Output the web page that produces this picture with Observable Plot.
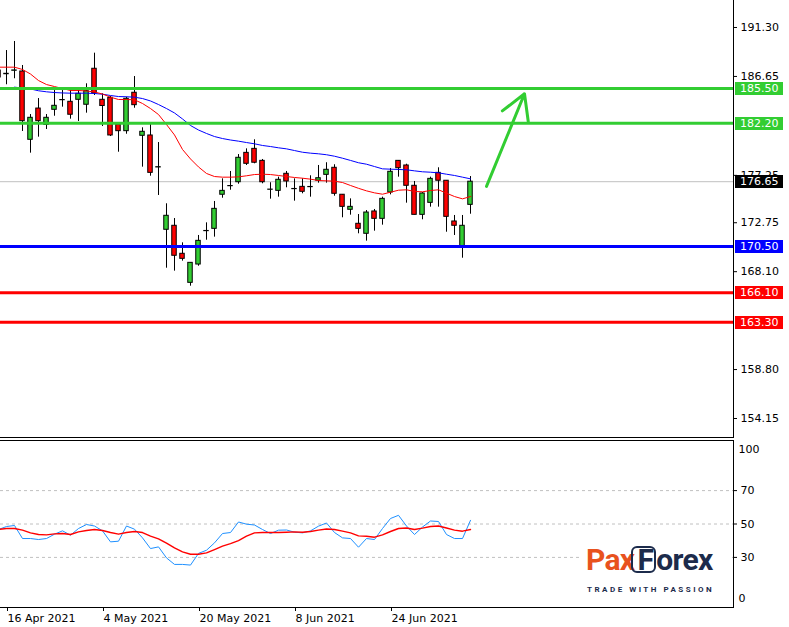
<!DOCTYPE html>
<html><head><meta charset="utf-8">
<script src="https://cdn.jsdelivr.net/npm/d3@7"></script>
<script src="https://cdn.jsdelivr.net/npm/@observablehq/plot@0.6"></script>
<style>
body{margin:0;background:#fff;}
#wrap{position:relative;width:789px;height:627px;overflow:hidden;background:#fff;font-family:"DejaVu Sans",sans-serif;}
#top{position:absolute;left:0;top:0;}
#bot{position:absolute;left:0;top:438px;}
#logo{position:absolute;left:580px;top:541px;width:152px;height:62px;background:#fff;}
#brand{position:absolute;left:6px;top:3px;font-family:Roboto,"Open Sans",sans-serif;font-weight:700;font-size:30px;letter-spacing:-0.7px;line-height:32px;white-space:nowrap;}
#brand .pax{color:#E8521E;}
#brand .fbox{color:#1C2B4B;display:inline-block;border:2px solid #1C2B4B;border-radius:6px;line-height:23px;padding:0 1px 0 4px;margin-left:-3px;}
#brand .orex{color:#1C2B4B;}
#tag{position:absolute;left:7px;top:44px;font-family:Roboto,"Open Sans",sans-serif;font-weight:700;font-size:8px;letter-spacing:2.5px;color:#1C2B4B;white-space:nowrap;}
</style></head>
<body><div id="wrap"><div id="top"></div><div id="bot"></div>
<div id="logo"><div id="brand"><span class="pax">Pax</span><span class="fbox">F</span><span class="orex">orex</span></div><div id="tag">TRADE WITH PASSION</div></div>
</div>
<script>
// ---------- data ----------
const barIndex = [-1,0,1,2,3,4,5,6,7,8,9,10,11,12,13,14,15,16,17,18,19,20,21,22,23,24,25,26,27,28,29,30,31,32,33,34,35,36,37,38,39,40,41,42,43,44,45,46,47,48,49,50,51,52,53,54,55,56,57,58];
const openP = [187.21,186.86,187.19,187.12,180.63,183.60,182.05,183.48,184.39,184.24,184.43,183.96,187.38,184.43,184.62,182.08,181.45,185.10,181.01,181.04,178.00,172.08,172.46,169.80,167.04,168.78,171.95,172.17,175.41,176.22,176.60,179.39,179.77,178.63,175.88,175.78,177.40,175.94,176.16,176.13,176.74,177.30,177.97,175.41,173.98,172.65,171.70,173.82,173.12,175.62,178.63,178.19,176.26,173.50,174.64,177.49,176.74,172.87,170.43,174.45];
const highP = [187.59,189.11,189.97,187.69,183.03,184.55,183.03,185.31,185.31,185.31,185.50,185.95,188.86,185.00,184.74,182.24,184.68,186.64,181.77,182.08,180.37,174.55,173.15,170.84,168.94,171.54,172.74,174.77,176.92,177.62,179.23,179.77,180.63,178.76,176.55,177.08,177.62,176.92,176.92,177.21,178.19,178.45,178.26,175.43,175.02,173.53,173.91,174.01,175.18,177.90,178.66,178.31,176.67,175.62,177.08,177.97,176.74,173.44,173.44,177.14];
const lowP = [185.31,185.86,186.43,181.42,179.36,180.88,181.61,182.87,183.73,182.59,182.37,183.16,184.84,181.89,180.94,179.45,181.16,183.63,178.03,177.17,175.34,168.43,168.15,169.10,166.72,168.62,171.09,171.38,175.08,175.84,176.41,178.19,178.35,176.45,174.99,175.18,176.07,174.80,175.50,175.18,176.51,176.51,175.27,173.22,173.47,171.70,171.00,171.95,172.52,175.40,177.08,174.61,173.49,173.03,174.23,174.23,171.85,171.54,169.38,173.56];
const closeP = [186.55,186.90,187.22,182.40,182.72,182.40,182.72,183.86,184.41,183.01,185.00,185.25,185.03,183.84,181.04,181.45,184.53,183.92,181.39,177.49,178.03,173.41,169.61,169.32,168.94,171.03,171.97,174.07,175.78,176.24,178.92,178.35,178.45,176.60,175.90,176.83,176.67,175.96,175.69,176.15,176.98,177.78,175.50,174.26,174.26,172.17,173.72,173.12,175.02,177.59,177.93,176.26,173.50,175.53,176.92,176.74,173.31,172.46,172.46,176.65];
const maFast = [187.53,187.53,187.53,187.31,186.88,186.26,185.88,185.69,185.50,185.31,185.31,185.27,185.17,184.98,184.68,184.46,184.46,184.43,184.08,183.60,183.03,182.08,181.09,179.71,178.81,178.05,177.43,177.14,177.08,177.08,177.11,177.21,177.33,177.36,177.33,177.24,177.14,177.05,176.98,176.89,176.76,176.73,176.70,176.57,176.29,176.02,175.78,175.59,175.46,175.65,175.84,175.88,175.72,175.69,175.81,175.88,175.56,175.24,175.02,175.24];
const maSlow = [null,null,185.63,185.55,185.46,185.29,185.19,185.12,185.08,185.06,185.06,185.06,185.03,184.96,184.84,184.74,184.72,184.68,184.55,184.32,183.98,183.60,183.18,182.61,181.99,181.56,181.23,180.94,180.75,180.61,180.50,180.37,180.25,180.09,179.99,179.87,179.77,179.61,179.45,179.36,179.30,179.21,179.07,178.88,178.67,178.45,178.31,178.09,177.87,177.84,177.81,177.78,177.68,177.59,177.55,177.49,177.36,177.24,177.08,176.92];
const oscMain = [46.7,48.5,49.1,41.3,41.3,40.7,41.3,43.9,45.9,43.3,47.3,49.7,48.8,45.9,39.3,39.7,48.8,46.9,41.7,35.3,36.3,29.7,25.8,25.8,25.4,32.4,34.3,38.7,44.3,44.9,51.2,49.9,49.4,46.7,44.3,46.3,46.4,45.1,44.7,45.9,48.7,50.6,44.9,41.7,41.3,36.1,41.3,40.7,47.3,53.3,55.2,48.8,43.7,48.2,51.8,51.5,43.7,41.3,41.3,52.2];
const oscSignal = [46.7,47.3,47.3,46.3,44.7,43.7,43.5,44.1,44.3,43.7,45.3,46.1,46.7,46.1,44.9,43.9,44.9,45.5,44.9,42.7,41.1,38.5,35.7,33.3,31.9,31.9,32.7,34.7,36.7,38.3,40.1,42.7,44.7,44.9,44.9,44.9,45.1,45.3,45.1,45.5,46.3,47.0,46.7,45.7,44.7,42.9,42.7,42.1,43.5,45.5,47.3,47.6,46.7,47.5,48.5,48.8,47.6,46.3,45.7,46.7];
const priceTicks = [191.30,186.65,177.25,172.75,168.10,158.80,154.15];
const levelPrices = [185.50,182.20,170.50,166.10,163.30];
const levelColors = ["#32CD32","#32CD32","#0000FF","#FF0000","#FF0000"];
const lastPrice = 176.65;
const oscLevels = [70,50,30];
const oscEdges = [100,0];
const dateTickIndex = [0,12,24,36,48];
const dateTickLabels = ["16 Apr 2021","4 May 2021","20 May 2021","8 Jun 2021","24 Jun 2021"];
const arrowFrom = {i:60, price:176.2};
const arrowTo = {i:64.75, price:185.0};

// ---------- build ----------
const candles = barIndex.map((i,k)=>({i, o:openP[k], h:highP[k], l:lowP[k], c:closeP[k]}));
const fast = barIndex.map((i,k)=>({i, v:maFast[k]}));
const slow = barIndex.map((i,k)=>({i, v:maSlow[k]})).filter(d=>d.v!=null);
const osc = barIndex.map((i,k)=>({i, main:oscMain[k], signal:oscSignal[k]}));
const xDomain = [-0.75, 90.875];
const baseStyle = {fontFamily:"DejaVu Sans", fontSize:"11px", background:"white", color:"black", overflow:"visible"};
const half = 0.28;

const topPlot = Plot.plot({
  width:789, height:438, marginLeft:0, marginRight:56, marginTop:0, marginBottom:1,
  x:{domain:xDomain, axis:null},
  y:{domain:[152.345,193.865], axis:null},
  color:{type:"identity"},
  style:baseStyle,
  marks:[
    Plot.ruleY([lastPrice], {stroke:"#C0C0C0", strokeWidth:1}),
    Plot.ruleX(candles, {x:"i", y1:"l", y2:"h", stroke:"black", strokeWidth:1}),
    Plot.rect(candles, {x1:d=>d.i-half, x2:d=>d.i+half, y1:"o", y2:"c",
      fill:d=>d.c>=d.o?"#32CD32":"#FF0000", stroke:"black", strokeWidth:1}),
    Plot.line(slow, {x:"i", y:"v", stroke:"#0000FF", strokeWidth:1}),
    Plot.line(fast, {x:"i", y:"v", stroke:"#FF0000", strokeWidth:1}),
    Plot.ruleY(levelPrices, {y:d=>d, stroke:(d,k)=>levelColors[k], strokeWidth:3}),
    Plot.arrow([{a:arrowFrom,b:arrowTo}], {x1:d=>d.a.i, y1:d=>d.a.price, x2:d=>d.b.i, y2:d=>d.b.price,
      stroke:"#32CD32", strokeWidth:3, headLength:14}),
    Plot.frame({anchor:"right"}),
    Plot.frame({anchor:"bottom"}),
    Plot.axisY({anchor:"right", ticks:priceTicks, tickFormat:d=>d.toFixed(2), tickSize:3, tickPadding:4, label:null})
  ]
});
document.getElementById("top").appendChild(topPlot);

// price labels on the right axis, placed with the plot's own y scale
const ys = topPlot.scale("y");
const svgTop = d3.select(topPlot);
const tags = levelPrices.map((p,k)=>({p, col:levelColors[k]})).concat([{p:lastPrice, col:"#000000"}]);
const tg = svgTop.append("g").attr("text-anchor","start");
tags.forEach(t=>{
  const yy = ys.apply(t.p);
  tg.append("rect").attr("x",735).attr("y",Math.round(yy)-6).attr("width",48).attr("height",13).attr("fill",t.col);
  tg.append("text").attr("x",740).attr("y",Math.round(yy)+0.5).attr("dy","0.36em").attr("text-anchor","start")
    .attr("fill","white").attr("font-family","DejaVu Sans").attr("font-size",11).text(t.p.toFixed(2));
});

const botPlot = Plot.plot({
  width:789, height:189, marginLeft:0, marginRight:56, marginTop:2, marginBottom:20,
  x:{domain:xDomain, axis:null},
  y:{domain:[0,100], axis:null},
  style:baseStyle,
  marks:[
    Plot.ruleY(oscLevels, {stroke:"#C0C0C0", strokeDasharray:"3,3"}),
    Plot.line(osc, {x:"i", y:"main", stroke:"#1E90FF", strokeWidth:1}),
    Plot.line(osc, {x:"i", y:"signal", stroke:"#FF0000", strokeWidth:1.4}),
    Plot.frame({anchor:"top"}),
    Plot.frame({anchor:"right"}),
    Plot.frame({anchor:"bottom"}),
    Plot.axisY({anchor:"right", ticks:oscLevels, tickSize:3, tickPadding:4, label:null}),
    Plot.text([oscEdges[0]], {y:d=>d, text:d=>String(d), frameAnchor:"right", dx:5, dy:9, textAnchor:"start"}),
    Plot.text([oscEdges[1]], {y:d=>d, text:d=>String(d), frameAnchor:"right", dx:5, dy:-9, textAnchor:"start"}),
    Plot.axisX({anchor:"bottom", ticks:dateTickIndex, tickFormat:d=>dateTickLabels[dateTickIndex.indexOf(d)],
      tickSize:4, tickPadding:3, textAnchor:"start", dx:1, label:null})
  ]
});
document.getElementById("bot").appendChild(botPlot);
</script>
</body></html>
